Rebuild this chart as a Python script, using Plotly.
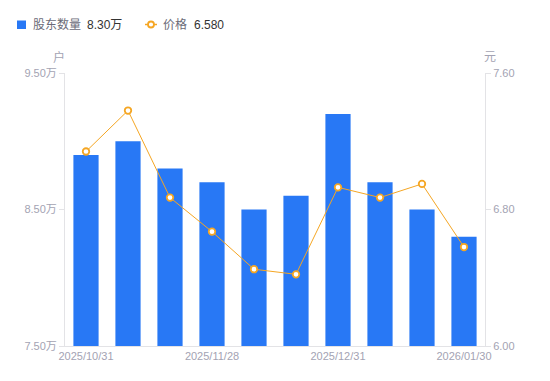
import plotly.graph_objects as go

dates = ["2025/10/31", "2025/11/10", "2025/11/20", "2025/11/28", "2025/12/10",
         "2025/12/19", "2025/12/31", "2026/01/09", "2026/01/20", "2026/01/30"]
holders = [8.90, 9.00, 8.80, 8.70, 8.50, 8.60, 9.20, 8.70, 8.50, 8.30]  # 万户
price = [7.14, 7.38, 6.87, 6.67, 6.45, 6.42, 6.93, 6.87, 6.95, 6.58]
shown_ticks = ["2025/10/31", "2025/11/28", "2025/12/31", "2026/01/30"]
left_ticks = [7.5, 8.5, 9.5]
left_labels = ["7.50万", "8.50万", "9.50万"]
right_ticks = [6.0, 6.8, 7.6]
right_labels = ["6.00", "6.80", "7.60"]

BLUE = "#2878f5"
ORANGE = "#f5a623"
AX = "#e3e3e6"
TICKC = "#a3a3b3"
FONT = "Liberation Sans, Noto Sans CJK SC, sans-serif"

OFF = 8  # page body margin offset
L, R, T, B = 65, 485, 73, 346   # page pixel positions of plot area
W, H = 550 - OFF, 381 - OFF

def px(x):
    return (x - L) / (R - L)

def py(y):
    return (B - y) / (B - T)

fig = go.Figure()
fig.add_trace(go.Bar(x=dates, y=holders, marker=dict(color=BLUE, line=dict(width=0)),
                     width=0.6, name="股东数量", yaxis="y"))
fig.add_trace(go.Scatter(x=dates, y=price, mode="lines+markers", name="价格", yaxis="y2",
                         line=dict(color=ORANGE, width=1),
                         marker=dict(size=6.5, color="white", line=dict(color=ORANGE, width=1.8))))

fig.update_layout(
    width=W, height=H,
    margin=dict(l=L - OFF, r=(550 - R), t=T - OFF, b=(381 - B), pad=0, autoexpand=False),
    plot_bgcolor="white", paper_bgcolor="white",
    showlegend=False, bargap=0.4,
    font=dict(family=FONT, size=11, color=TICKC),
    xaxis=dict(type="category", tickmode="array", tickvals=shown_ticks, ticktext=shown_ticks,
               showline=True, linecolor=AX, linewidth=1, ticks="", showgrid=False,
               tickfont=dict(size=11, color=TICKC), range=[-0.5, 9.5]),
    yaxis=dict(range=[7.5, 9.5], tickmode="array", tickvals=left_ticks, ticktext=left_labels,
               showline=True, linecolor=AX, linewidth=1, ticks="outside", ticklen=5,
               tickcolor=AX, showgrid=False, zeroline=False,
               tickfont=dict(size=11, color=TICKC)),
    yaxis2=dict(range=[6.0, 7.6], overlaying="y", side="right", tickmode="array",
                tickvals=right_ticks, ticktext=right_labels,
                showline=True, linecolor=AX, linewidth=1, ticks="outside", ticklen=5,
                tickcolor=AX, showgrid=False, zeroline=False,
                tickfont=dict(size=11, color=TICKC)),
)

ann = [
    dict(text="户", x=px(59), y=py(57), xanchor="center", yanchor="middle", font=dict(size=12, color=TICKC)),
    dict(text="元", x=px(490), y=py(57), xanchor="center", yanchor="middle", font=dict(size=12, color=TICKC)),
    dict(text="股东数量", x=px(31), y=py(25), xanchor="left", yanchor="middle", font=dict(size=12, color="#6b6b78")),
    dict(text="8.30万", x=px(85), y=py(25), xanchor="left", yanchor="middle", font=dict(size=12, color="#333333")),
    dict(text="价格", x=px(161), y=py(25), xanchor="left", yanchor="middle", font=dict(size=12, color="#6b6b78")),
    dict(text="6.580", x=px(192), y=py(25), xanchor="left", yanchor="middle", font=dict(size=12, color="#333333")),
]
for a in ann:
    a.update(xref="paper", yref="paper", showarrow=False)
fig.update_layout(annotations=ann)

shapes = [
    dict(type="rect", x0=px(17), x1=px(26), y0=py(29), y1=py(20.5), fillcolor=BLUE, line=dict(width=0)),
    dict(type="line", x0=px(145), x1=px(157), y0=py(24.5), y1=py(24.5), line=dict(color=ORANGE, width=1.5)),
    dict(type="circle", x0=px(148), x1=px(154), y0=py(27.5), y1=py(21.5), fillcolor="white", line=dict(color=ORANGE, width=1.8)),
]
for s in shapes:
    s.update(xref="paper", yref="paper")
fig.update_layout(shapes=shapes)

fig.write_html("out.html")
